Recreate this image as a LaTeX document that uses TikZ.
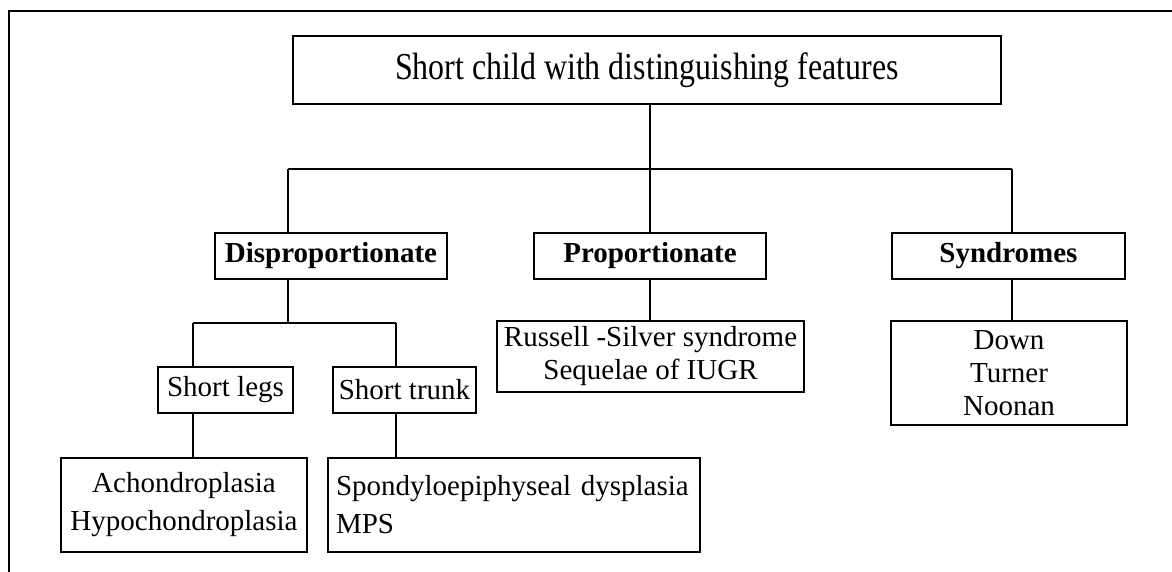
\documentclass[tikz,border=0pt]{standalone}
\usepackage{fontspec}
\setmainfont{Liberation Serif}
\newfontfamily\narrowserif[FakeStretch=0.84]{Liberation Serif}
\begin{document}
\begin{tikzpicture}[x=1pt,y=-1pt,
  box/.style={draw,line width=2.2pt,rectangle,inner sep=0pt,align=center,
    font=\fontsize{29}{33}\selectfont},
  boldbox/.style={box,font=\fontsize{29}{33}\selectfont\bfseries},
  link/.style={line width=1.8pt},
  frame/.style={line width=2pt}]
\useasboundingbox (0,0) rectangle (1172,572);
% outer frame (top and left edges)
\draw[frame] (1172,11) -- (9,11) -- (9,572);

% nodes
\node[box,minimum width=708pt,minimum height=68pt,
  font=\narrowserif\fontsize{38}{42}\selectfont] (top) at (647,70)
  {Short child with distinguishing features};
\node[boldbox,minimum width=232pt,minimum height=46pt] (dis) at (331,256) {Disproportionate};
\node[boldbox,minimum width=232pt,minimum height=46pt] (pro) at (650,256) {Proportionate};
\node[boldbox,minimum width=233pt,minimum height=46pt] (syn) at (1008.5,256) {Syndromes};
\node[box,minimum width=135pt,minimum height=46pt] (legs) at (225.5,390) {Short legs};
\node[box,minimum width=143pt,minimum height=46pt] (trunk) at (404.5,390) {Short trunk};
\node[box,minimum width=307pt,minimum height=71pt] (rus) at (650.5,356.5)
  {Russell -Silver syndrome\\Sequelae of IUGR};
\node[box,minimum width=236pt,minimum height=104pt] (down) at (1009,373)
  {Down\\Turner\\Noonan};
\node[box,minimum width=246pt,minimum height=94pt,
  font=\fontsize{29}{38}\selectfont] (ach) at (184,505)
  {Achondroplasia\\Hypochondroplasia};
\node[box,minimum width=372pt,minimum height=94pt,text width=356pt,align=left,
  font=\fontsize{29}{38}\selectfont] (spo) at (514,505)
  {Spondyloepiphyseal dysplasia\\MPS};

% junction points
\coordinate (j1) at (650,169);
\coordinate (hl) at (288,169);
\coordinate (hr) at (1012,169);
\coordinate (j2) at (288,323);
\coordinate (sl) at (193,323);
\coordinate (sr) at (396,323);

% connectors
\draw[link] (j1 |- top.south) -- (j1);
\draw[link] (hl) -- (hr);
\draw[link] (hl) -- (hl |- dis.north);
\draw[link] (j1) -- (j1 |- pro.north);
\draw[link] (hr) -- (hr |- syn.north);
\draw[link] (pro.south -| j1) -- (j1 |- rus.north);
\draw[link] (syn.south -| hr) -- (hr |- down.north);
\draw[link] (dis.south -| j2) -- (j2);
\draw[link] (sl) -- (sr);
\draw[link] (sl) -- (sl |- legs.north);
\draw[link] (sr) -- (sr |- trunk.north);
\draw[link] (legs.south -| sl) -- (sl |- ach.north);
\draw[link] (trunk.south -| sr) -- (sr |- spo.north);
\end{tikzpicture}
\end{document}
